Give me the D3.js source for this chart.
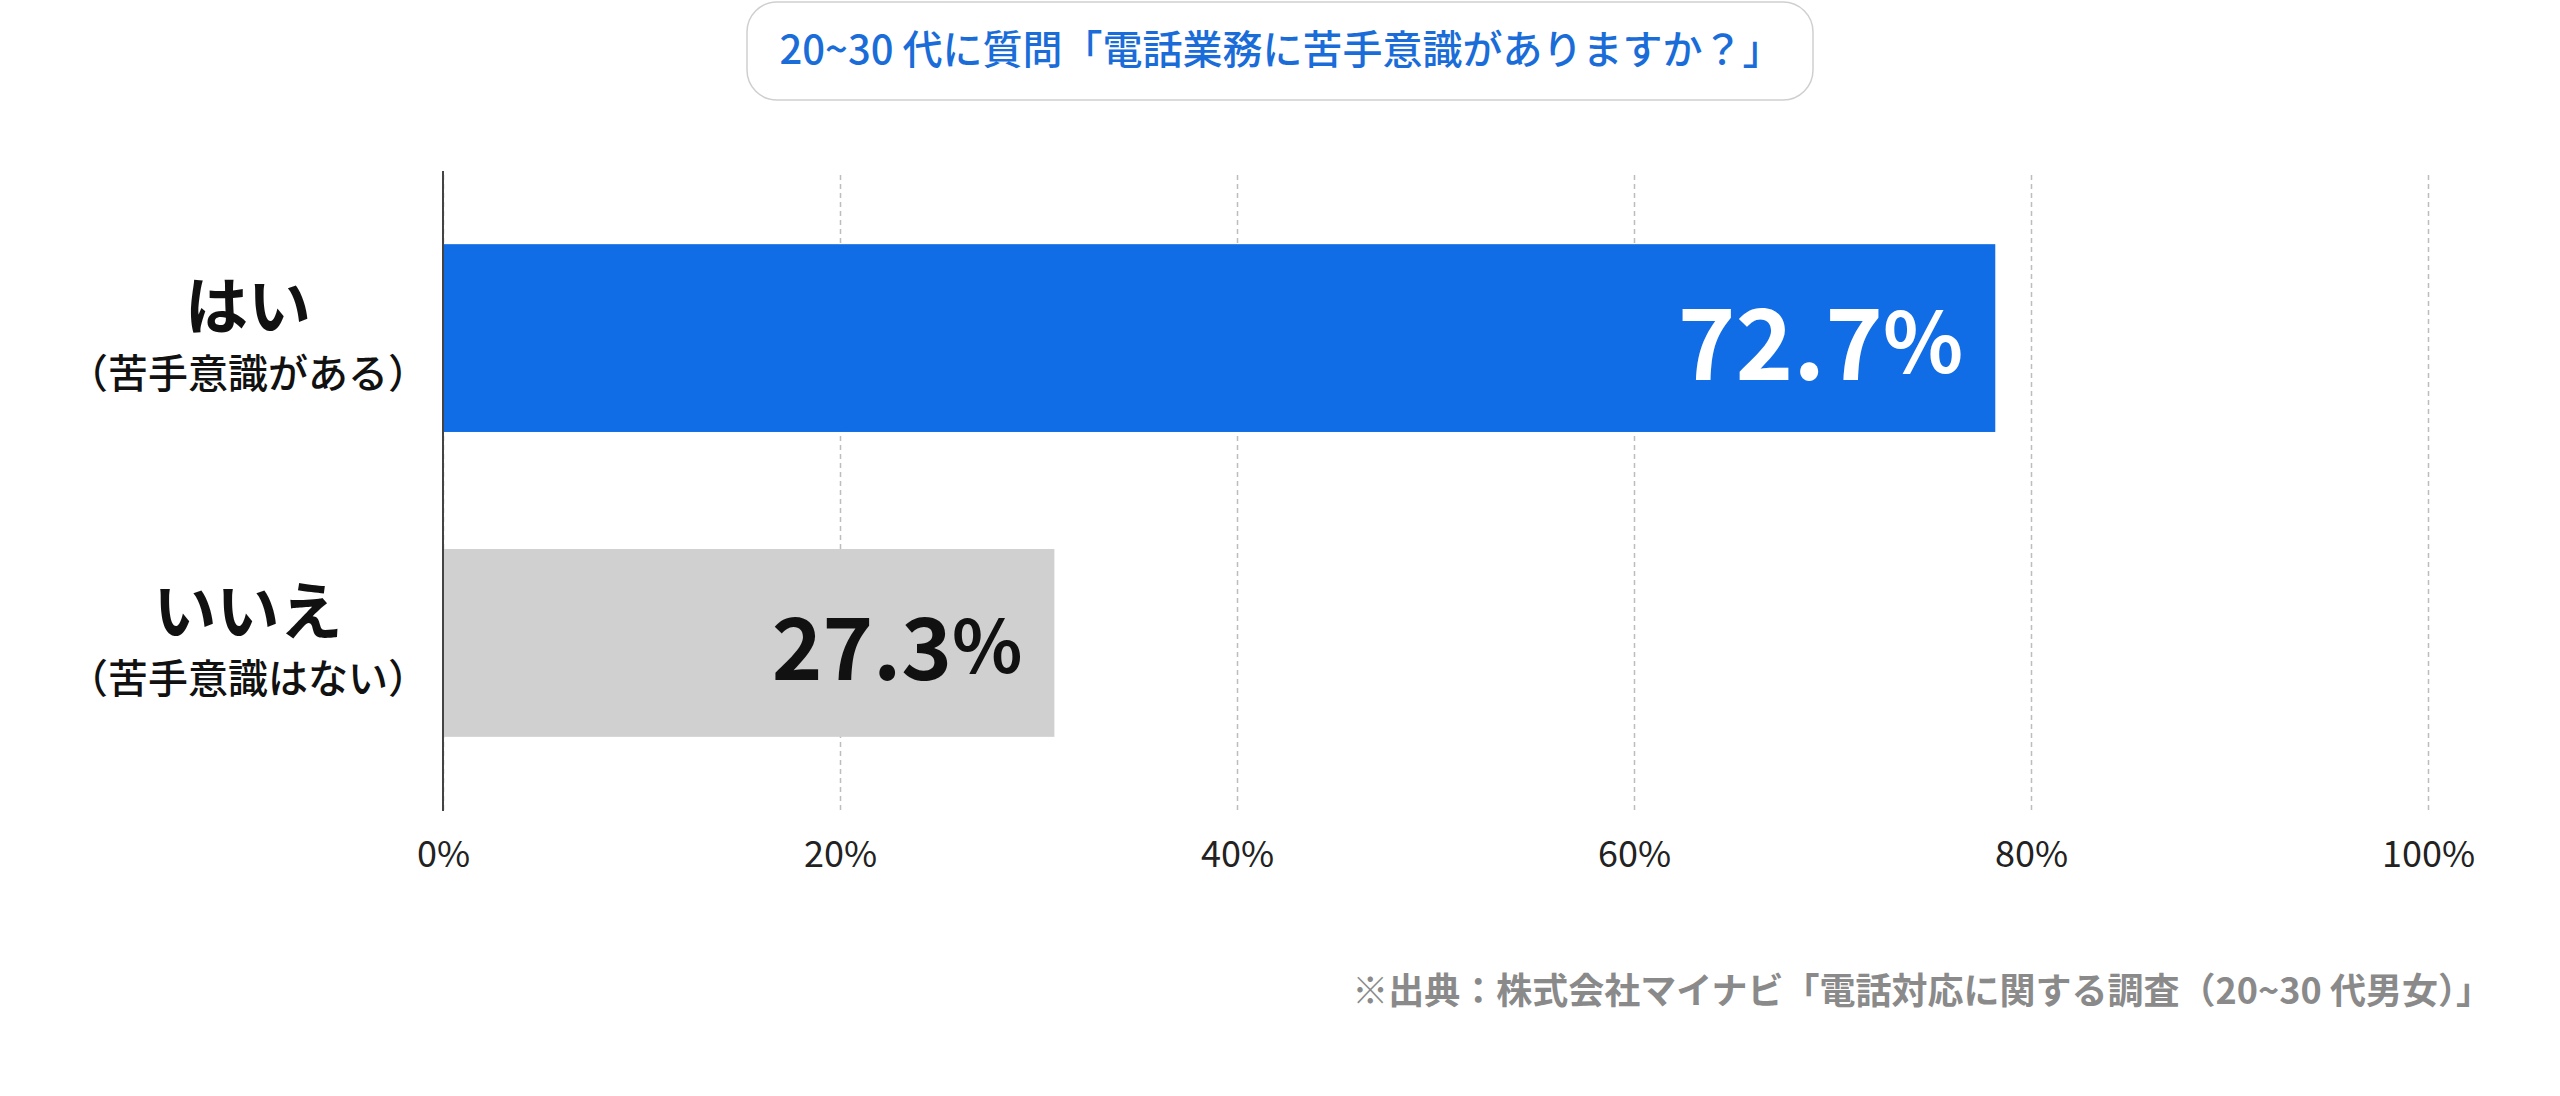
<!DOCTYPE html>
<html>
<head>
<meta charset="utf-8">
<script src="https://cdn.jsdelivr.net/npm/d3@7"></script>
<style>
  html, body { margin: 0; padding: 0; background: #fff; }
  svg { display: block; font-family: "Noto Sans CJK JP", "Noto Sans", sans-serif; }
</style>
</head>
<body>
<svg id="chart" width="2560" height="1096"></svg>
<script>
// data
var categories = ["はい", "いいえ"];
var subLabels = ["（苦手意識がある）", "（苦手意識はない）"];
var values = [72.7, 27.3];          // printed on the bars
var barLengths = [78.2, 30.8];      // how long the bars are actually drawn
var tickValues = [0, 20, 40, 60, 80, 100];
var titleText = "20~30 代に質問「電話業務に苦手意識がありますか？」";
var sourceText = "※出典：株式会社マイナビ「電話対応に関する調査（20~30 代男女）」";

var barColors = ["#106de6", "#d0d0d0"];
var valueColors = ["#ffffff", "#111111"];
var valueSizes = [98, 86];

var svg = d3.select("#chart");

var top_ = 171, bottom_ = 810;

var x = d3.scaleLinear()
    .domain([0, 100])
    .range([443, 2428]);

var y = d3.scaleBand()
    .domain(categories)
    .range([top_, bottom_])
    .paddingInner(0.384)
    .paddingOuter(0.24);

// title box
svg.append("rect")
    .attr("x", 747).attr("y", 2)
    .attr("width", 1066).attr("height", 98)
    .attr("rx", 30)
    .attr("fill", "#fff")
    .attr("stroke", "#cfcfcf")
    .attr("stroke-width", 1.5);

svg.append("text")
    .attr("x", 1281).attr("y", 64)
    .attr("text-anchor", "middle")
    .attr("font-size", 40)
    .attr("font-weight", 500)
    .attr("fill", "#1a6dd8")
    .text(titleText);

// grid + tick labels
var gAxis = svg.append("g")
    .attr("transform", "translate(0," + bottom_ + ")")
    .call(d3.axisBottom(x)
        .tickValues(tickValues)
        .tickSize(-(bottom_ - top_))
        .tickPadding(31)
        .tickFormat(function(d) { return d + "%"; }));

gAxis.select(".domain").remove();
gAxis.selectAll(".tick line")
    .attr("stroke", "#bdbdbd")
    .attr("stroke-width", 1.5)
    .attr("stroke-dasharray", "5,4");
gAxis.selectAll(".tick text")
    .attr("font-size", 36)
    .attr("font-family", "\"Noto Sans CJK JP\", sans-serif")
    .attr("fill", "#222");

// bars
svg.selectAll("rect.bar")
    .data(categories)
    .enter()
    .append("rect")
    .attr("class", "bar")
    .attr("x", x(0))
    .attr("y", function(d) { return y(d); })
    .attr("width", function(d, i) { return x(barLengths[i]) - x(0); })
    .attr("height", y.bandwidth())
    .attr("fill", function(d, i) { return barColors[i]; });

// zero axis line on top
svg.append("line")
    .attr("x1", x(0)).attr("x2", x(0))
    .attr("y1", top_).attr("y2", bottom_ + 1)
    .attr("stroke", "#444")
    .attr("stroke-width", 2);

// value labels
var vl = svg.selectAll("text.val")
    .data(categories)
    .enter()
    .append("text")
    .attr("class", "val")
    .attr("text-anchor", "end")
    .attr("x", function(d, i) { return x(barLengths[i]) - 32; })
    .attr("y", function(d, i) { return y(d) + y.bandwidth() / 2 + valueSizes[i] * 0.43; })
    .attr("font-size", function(d, i) { return valueSizes[i]; })
    .attr("font-weight", 700)
    .attr("fill", function(d, i) { return valueColors[i]; });

vl.append("tspan").text(function(d, i) { return values[i].toFixed(1); });
vl.append("tspan")
    .attr("font-size", function(d, i) { return valueSizes[i] * 0.85; })
    .attr("dy", -7)
    .text("%");

// category labels
var cl = svg.selectAll("g.cat")
    .data(categories)
    .enter()
    .append("g")
    .attr("class", "cat")
    .attr("transform", function(d) { return "translate(248," + (y(d) + y.bandwidth() / 2) + ")"; });

cl.append("text")
    .attr("text-anchor", "middle")
    .attr("y", -9)
    .attr("font-size", 63)
    .attr("font-weight", 700)
    .attr("fill", "#111")
    .text(function(d) { return d; });

cl.append("text")
    .attr("text-anchor", "middle")
    .attr("y", 50)
    .attr("font-size", 40)
    .attr("font-weight", 500)
    .attr("fill", "#111")
    .text(function(d, i) { return subLabels[i]; });

// source note
svg.append("text")
    .attr("x", 2492).attr("y", 1004)
    .attr("text-anchor", "end")
    .attr("font-size", 36)
    .attr("font-weight", 700)
    .attr("fill", "#8a8a8a")
    .text(sourceText);
</script>
</body>
</html>
